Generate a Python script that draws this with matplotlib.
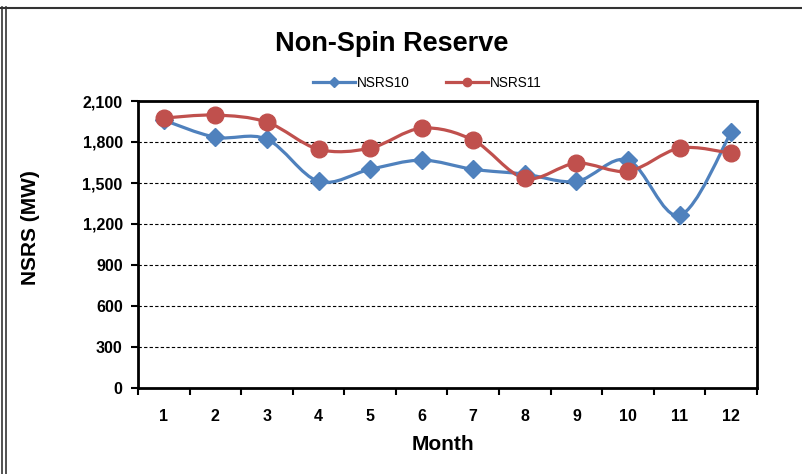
import matplotlib
matplotlib.use('Agg')
import matplotlib.pyplot as plt
from matplotlib.path import Path
from matplotlib.patches import PathPatch
from matplotlib.lines import Line2D

plt.rcParams['font.family'] = ['Liberation Sans', 'DejaVu Sans']

# Data
months = [1, 2, 3, 4, 5, 6, 7, 8, 9, 10, 11, 12]
nsrs10 = [1960, 1835, 1820, 1512, 1600, 1667, 1600, 1565, 1512, 1667, 1263, 1872]
nsrs11 = [1975, 1997, 1945, 1747, 1755, 1901, 1813, 1534, 1645, 1586, 1755, 1718]
y_ticks = [0, 300, 600, 900, 1200, 1500, 1800, 2100]

BLUE = '#4F81BD'
RED = '#C0504D'


def smooth_path(xs, ys):
    """Excel-style smoothed line as cubic Bezier segments"""
    pts = list(zip(xs, ys))
    verts = [pts[0]]
    codes = [Path.MOVETO]
    n = len(pts)
    for i in range(n - 1):
        p0 = pts[i - 1] if i > 0 else pts[i]
        p1 = pts[i]
        p2 = pts[i + 1]
        p3 = pts[i + 2] if i + 2 < n else pts[i + 1]
        c1 = (p1[0] + (p2[0] - p0[0]) / 6, p1[1] + (p2[1] - p0[1]) / 6)
        c2 = (p2[0] - (p3[0] - p1[0]) / 6, p2[1] - (p3[1] - p1[1]) / 6)
        verts += [c1, c2, p2]
        codes += [Path.CURVE4] * 3
    return Path(verts, codes)


fig = plt.figure(figsize=(8.02, 4.74), dpi=100)
ax = fig.add_axes([138 / 802, 86 / 474, 619 / 802, 287 / 474])

# smoothed lines
for vals, color in [(nsrs10, BLUE), (nsrs11, RED)]:
    ax.add_patch(PathPatch(smooth_path(months, vals), facecolor='none',
                           edgecolor=color, linewidth=2.3, zorder=3))

ax.plot(months, nsrs10, linestyle='none', marker='D', markersize=9,
        color=BLUE, zorder=4)
ax.plot(months, nsrs11, linestyle='none', marker='o', markersize=12,
        color=RED, zorder=5)

# legend handles
h10 = Line2D([], [], color=BLUE, linewidth=2.3, marker='D', markersize=5)
h11 = Line2D([], [], color=RED, linewidth=2.3, marker='o', markersize=6)
fig.legend([h10, h11], ['NSRS10', 'NSRS11'], loc='center',
           bbox_to_anchor=(427 / 802, 1 - 83 / 474), ncol=2, frameon=False,
           fontsize=9.8, handlelength=3.1, handletextpad=0.1, columnspacing=2.7)

ax.set_xlim(0.5, 12.5)
ax.set_ylim(0, 2100)
ax.set_yticks(y_ticks)
ax.set_yticklabels([f'{v:,}' for v in y_ticks])
ax.set_xticks([m + 0.5 for m in [0] + months])
ax.set_xticklabels([])
ax.set_xticks(months, minor=True)
ax.set_xticklabels([str(m) for m in months], minor=True)
ax.tick_params(axis='x', which='minor', length=0, pad=15)
ax.tick_params(axis='x', which='major', length=5, width=1.5, direction='out')
ax.tick_params(axis='y', length=5, width=1.5, direction='out', pad=6)
for lab in ax.get_xticklabels(minor=True) + ax.get_yticklabels():
    lab.set_fontweight('bold')
    lab.set_fontsize(11.5)

for y in y_ticks[1:-1]:
    ax.axhline(y, color='black', linestyle=(0, (3, 2)), linewidth=0.8, zorder=1)

for s in ax.spines.values():
    s.set_linewidth(2)

fig.text(443 / 802, 1 - 445 / 474, 'Month', fontsize=15, fontweight='bold',
         ha='center', va='center')
fig.text(30 / 802, 1 - 228 / 474, 'NSRS (MW)', fontsize=15, fontweight='bold',
         ha='center', va='center', rotation=90)
fig.text(392 / 802, 1 - 44 / 474, 'Non-Spin Reserve', fontsize=19.5,
         fontweight='bold', ha='center', va='center')

# outer frame lines
for xp in [1.5, 5.5]:
    fig.add_artist(Line2D([xp / 802, xp / 802], [0, 1 - 7 / 474],
                          color='#333333', linewidth=1.2))
fig.add_artist(Line2D([0, 1], [1 - 7.5 / 474, 1 - 7.5 / 474],
                      color='#333333', linewidth=1.5))

fig.savefig('out.png', dpi=100)
